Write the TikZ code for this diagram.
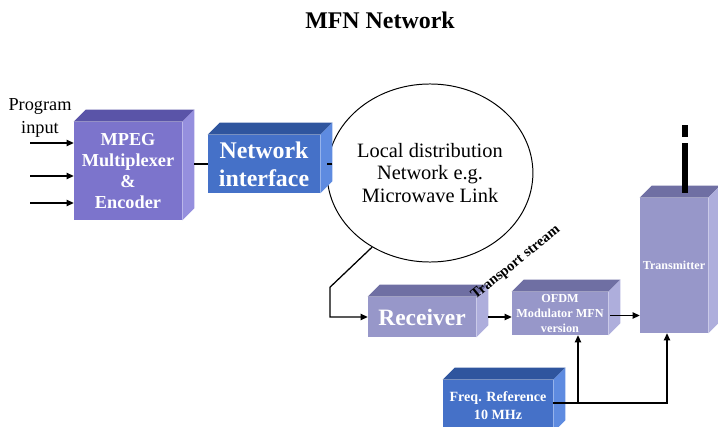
\documentclass[tikz,border=0pt]{standalone}
\usepackage{fontspec}
\setmainfont{Liberation Serif}
\usetikzlibrary{arrows.meta,positioning,shapes.geometric,calc}
\definecolor{mpegfront}{HTML}{7C74CC}
\definecolor{mpegtop}{HTML}{5A54A8}
\definecolor{mpegside}{HTML}{958FDE}
\definecolor{blufront}{HTML}{4571C8}
\definecolor{blutop}{HTML}{2F559E}
\definecolor{bluside}{HTML}{5E8BE0}
\definecolor{lavfront}{HTML}{9797C9}
\definecolor{lavtop}{HTML}{6F6FA3}
\definecolor{lavside}{HTML}{AEAEDC}

\begin{document}
\begin{tikzpicture}[x=0.025cm,y=-0.025cm,
  cubebox/.style={fill=#1,text=white,align=center,inner sep=1pt},
  link/.style={line width=0.9pt,-{Triangle[length=5pt,width=4.5pt]}}]
\def\cubefaces#1#2#3{%
  \fill[#2] (#1.north west) -- ++(12,-12) -- ($(#1.north east)+(12,-12)$) -- (#1.north east) -- cycle;
  \fill[#3] (#1.north east) -- ++(12,-12) -- ($(#1.south east)+(12,-12)$) -- (#1.south east) -- cycle;}
\useasboundingbox (0,0) rectangle (718,427);
\clip (0,0) rectangle (718,427);
\node[font=\fontsize{17}{20}\selectfont\bfseries] (title) at (380,20) {MFN Network};
\node[align=center,font=\fontsize{13}{16}\selectfont] (prog) at (40,118) {Program\\input};
\node[cubebox=mpegfront,minimum width=27mm,minimum height=24.5mm,font=\fontsize{13}{15}\selectfont\bfseries] (mpeg) at (128,171) {MPEG\\Multiplexer\\\&\\Encoder};
\node[cubebox=blufront,minimum width=28mm,minimum height=14.5mm,font=\fontsize{17}{20}\selectfont\bfseries] (ni) at (264,164) {Network\\interface};
\node[ellipse,draw,line width=0.7pt,minimum width=41mm,minimum height=44.5mm,inner sep=0pt,align=center,font=\fontsize{14.5}{16.3}\selectfont] (ell) at (430,173) {Local distribution\\Network e.g.\\Microwave Link};
\node[cubebox=lavfront,minimum width=27mm,minimum height=10mm,font=\fontsize{16.7}{19}\selectfont\bfseries] (rcv) at (422,317) {Receiver};
\node[cubebox=lavfront,minimum width=24mm,minimum height=10.75mm,font=\fontsize{8.7}{10.6}\selectfont\bfseries] (ofdm) at (560,313.5) {OFDM\\Modulator MFN\\version};
\node[cubebox=lavfront,minimum width=17mm,minimum height=33.75mm,font=\fontsize{8.6}{10}\selectfont\bfseries] (tx) at (674,265.5) {Transmitter};
\node[cubebox=blufront,minimum width=27.5mm,minimum height=13mm,font=\fontsize{10}{12.8}\selectfont\bfseries] (freq) at (498,406) {Freq. Reference\\10 MHz};
% 3d faces
\cubefaces{mpeg}{mpegtop}{mpegside}
\cubefaces{ni}{blutop}{bluside}
\cubefaces{rcv}{lavtop}{lavside}
\cubefaces{ofdm}{lavtop}{lavside}
\cubefaces{tx}{lavtop}{lavside}
\cubefaces{freq}{blutop}{bluside}
\node[rotate=39,font=\fontsize{10.4}{12}\selectfont\bfseries] (ts) at (516,263) {Transport stream};
% antenna
\fill ($(tx.north)+(8,-5)$) rectangle ++(6,-50);
\fill ($(tx.north)+(8,-61)$) rectangle ++(6,-12);
% connectors
\foreach \y [count=\i] in {143,176,203} {
  \coordinate (in\i) at (30,\y);
  \draw[link] (in\i) -- (in\i -| mpeg.west);
}
\draw[line width=0.9pt] ($(mpeg.east |- ni.west)+(12,0)$) -- (ni.west);
\draw[line width=0.9pt] ($(ni.east)+(12,0)$) -- (ni.east -| ell.west);
\draw[link] (ell.232) -- ++(-42,40) |- (rcv.west);
\draw[link] ($(rcv.east)+(12,0)$) -- (rcv.east -| ofdm.west);
\draw[link] ($(ofdm.east)+(2,2)$) -- ($(ofdm.east -| tx.west)+(0,2)$);
\coordinate (fo) at ($(freq.east)+(0,-3)$);
\coordinate (ofdmin) at ($(ofdm.south)+(18,0)$);
\coordinate (txin) at ($(tx.south)+(-7,0)$);
\draw[link] (fo) -| (txin);
\draw[link] (fo -| ofdmin) -- (ofdmin);
\end{tikzpicture}
\end{document}
